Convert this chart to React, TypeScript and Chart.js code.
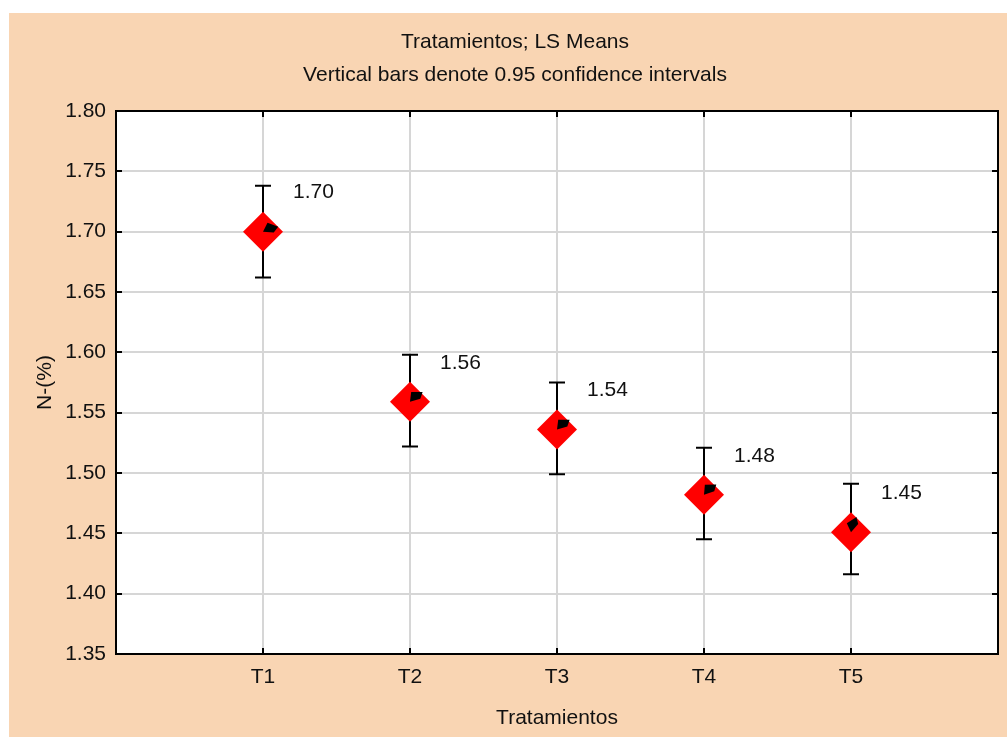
import React, { useEffect, useRef } from "react";
import { Chart, registerables } from "chart.js";

Chart.register(...registerables);

const categories = ["T1", "T2", "T3", "T4", "T5"];
const means = [1.7, 1.559, 1.536, 1.482, 1.451];
const upperCI = [1.738, 1.598, 1.575, 1.521, 1.491];
const lowerCI = [1.662, 1.522, 1.499, 1.445, 1.416];
const yTicks = [1.35, 1.4, 1.45, 1.5, 1.55, 1.6, 1.65, 1.7, 1.75, 1.8];
const arrowAnglesDeg = [-18, -38, -38, -40, -70];
const titleText = "Tratamientos; LS Means";
const subtitleText = "Vertical bars denote 0.95 confidence intervals";
const xTitle = "Tratamientos";
const yTitle = "N-(%)";

const FONT = "Liberation Sans, Arial, sans-serif";
const FONT_SIZE = 21;
const TEXT = "#111111";

const customPlugin = {
  id: "customDraw",
  beforeDraw(chart: any) {
    const ctx = chart.ctx;
    const { left, right, top, bottom } = chart.chartArea;
    ctx.save();
    ctx.fillStyle = "#ffffff";
    ctx.fillRect(left, top, right - left, bottom - top);
    ctx.restore();
  },
  beforeDatasetsDraw(chart: any) {
    const ctx = chart.ctx;
    const xs = chart.scales.x;
    const ys = chart.scales.y;
    ctx.save();
    ctx.strokeStyle = "#000";
    ctx.lineWidth = 2;
    categories.forEach((_, i) => {
      const x = Math.round(xs.getPixelForValue(i + 1));
      const yt = ys.getPixelForValue(upperCI[i]);
      const yb = ys.getPixelForValue(lowerCI[i]);
      ctx.beginPath();
      ctx.moveTo(x, yt);
      ctx.lineTo(x, yb);
      ctx.moveTo(x - 8, yt);
      ctx.lineTo(x + 8, yt);
      ctx.moveTo(x - 8, yb);
      ctx.lineTo(x + 8, yb);
      ctx.stroke();
    });
    ctx.restore();
  },
  afterDatasetsDraw(chart: any) {
    const ctx = chart.ctx;
    const xs = chart.scales.x;
    const ys = chart.scales.y;
    ctx.save();
    categories.forEach((_, i) => {
      const cx = xs.getPixelForValue(i + 1);
      const cy = ys.getPixelForValue(means[i]);
      const a = (arrowAnglesDeg[i] * Math.PI) / 180;
      const ux = Math.cos(a), uy = Math.sin(a);
      const nx = -uy, ny = ux;
      const p = (t: number, s: number) => [cx + t * ux + s * nx, cy + t * uy + s * ny];
      const pts = [p(0, 0), p(10, 4), p(16, 0), p(7, -7)];
      ctx.fillStyle = "#000";
      ctx.beginPath();
      ctx.moveTo(pts[0][0], pts[0][1]);
      for (let k = 1; k < pts.length; k++) ctx.lineTo(pts[k][0], pts[k][1]);
      ctx.closePath();
      ctx.fill();
      ctx.fillStyle = TEXT;
      ctx.font = `${FONT_SIZE}px ${FONT}`;
      ctx.textAlign = "left";
      ctx.textBaseline = "middle";
      ctx.fillText(means[i].toFixed(2), cx + 30, cy - 39);
    });
    ctx.restore();
  },
  afterDraw(chart: any) {
    const ctx = chart.ctx;
    const { left, right, top, bottom } = chart.chartArea;
    const xs = chart.scales.x;
    const ys = chart.scales.y;
    ctx.save();
    ctx.strokeStyle = "#000";
    ctx.lineWidth = 2;
    ctx.beginPath();
    yTicks.forEach((v) => {
      const y = Math.round(ys.getPixelForValue(v));
      ctx.moveTo(left, y);
      ctx.lineTo(left + 6, y);
      ctx.moveTo(right, y);
      ctx.lineTo(right - 6, y);
    });
    categories.forEach((_, i) => {
      const x = Math.round(xs.getPixelForValue(i + 1));
      ctx.moveTo(x, bottom);
      ctx.lineTo(x, bottom - 6);
      ctx.moveTo(x, top);
      ctx.lineTo(x, top + 6);
    });
    ctx.stroke();
    ctx.strokeRect(left, top, right - left, bottom - top);
    ctx.fillStyle = TEXT;
    ctx.font = `${FONT_SIZE}px ${FONT}`;
    ctx.textAlign = "center";
    ctx.textBaseline = "middle";
    ctx.fillText(titleText, 506, 29);
    ctx.fillText(subtitleText, 506, 62);
    ctx.fillText(xTitle, (left + right) / 2, 705);
    ctx.translate(36, (top + bottom) / 2);
    ctx.rotate(-Math.PI / 2);
    ctx.fillText(yTitle, 0, 0);
    ctx.restore();
  },
};

export default function App() {
  const ref = useRef<HTMLCanvasElement | null>(null);
  useEffect(() => {
    if (!ref.current) return;
    const chart = new Chart(ref.current, {
      type: "scatter",
      data: {
        datasets: [
          {
            label: "LS Means",
            data: means.map((m, i) => ({ x: i + 1, y: m })),
            pointStyle: "rectRot",
            pointRadius: 20,
            pointHoverRadius: 20,
            backgroundColor: "#FF0000",
            borderWidth: 0,
            showLine: false,
            clip: false,
          },
        ],
      },
      options: {
        animation: false,
        responsive: false,
        layout: { autoPadding: false, padding: { top: 98, right: 9, left: 0, bottom: 0 } },
        plugins: {
          legend: { display: false },
          tooltip: { enabled: false },
          title: { display: false },
        },
        scales: {
          x: {
            type: "linear",
            min: 0,
            max: 6,
            afterFit: (s: any) => {
              s.height = 83;
              s.paddingLeft = 0;
              s.paddingRight = 0;
            },
            afterBuildTicks: (s: any) => {
              s.ticks = [0, 1, 2, 3, 4, 5, 6].map((v) => ({ value: v }));
            },
            grid: { color: "#d6d6d6", lineWidth: 2, drawTicks: false },
            border: { display: false },
            ticks: {
              autoSkip: false,
              maxRotation: 0,
              padding: 11,
              color: TEXT,
              font: { family: FONT, size: FONT_SIZE },
              callback: (v: any) => {
                const n = Number(v);
                return n >= 1 && n <= 5 ? categories[n - 1] : "";
              },
            },
          },
          y: {
            min: 1.35,
            max: 1.8,
            afterFit: (s: any) => {
              s.width = 107;
              s.paddingTop = 0;
              s.paddingBottom = 0;
            },
            afterBuildTicks: (s: any) => {
              s.ticks = yTicks.map((v) => ({ value: v }));
            },
            grid: { color: "#d6d6d6", lineWidth: 2, drawTicks: false },
            border: { display: false },
            ticks: {
              padding: 10,
              color: TEXT,
              font: { family: FONT, size: FONT_SIZE },
              callback: (v: any) => Number(v).toFixed(2),
            },
          },
        },
      } as any,
      plugins: [customPlugin],
    });
    return () => chart.destroy();
  }, []);

  return (
    <div style={{ position: "absolute", left: 0, top: 0, width: 1007, height: 738, background: "#ffffff" }}>
      <div style={{ position: "absolute", left: 9, top: 13, width: 998, height: 724, background: "#F9D5B3" }}>
        <canvas ref={ref} width={998} height={724} style={{ display: "block", width: 998, height: 724 }} />
      </div>
    </div>
  );
}
